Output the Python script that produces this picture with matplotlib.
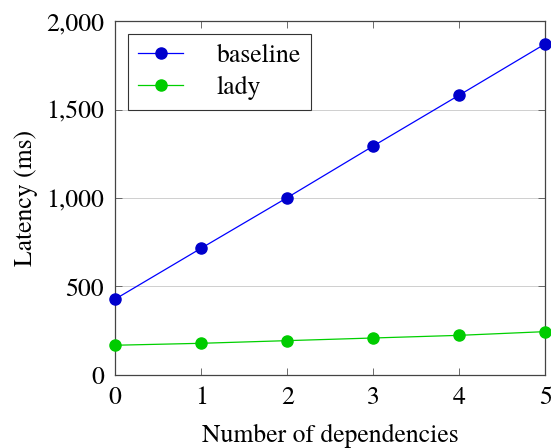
import matplotlib
matplotlib.use('Agg')
import matplotlib.pyplot as plt
from matplotlib.ticker import FuncFormatter

# data
deps = [0, 1, 2, 3, 4, 5]
baseline = [428, 716, 1002, 1294, 1582, 1872]
lady = [168, 179, 194, 209, 224, 245]

plt.rcParams['font.family'] = ['TeX Gyre Termes', 'Liberation Serif', 'DejaVu Serif']

fig = plt.figure(figsize=(5.51, 4.48), dpi=100)
ax = fig.add_axes([0.2087, 0.163, 0.7813, 0.790])

ax.plot(deps, baseline, color='#0000ff', lw=0.9, marker='o', ms=8,
        mfc='#0000cc', mec='#0000cc', label='baseline', clip_on=False, zorder=3)
ax.plot(deps, lady, color='#00d000', lw=0.9, marker='o', ms=8,
        mfc='#00cc00', mec='#00cc00', label='lady', clip_on=False, zorder=3)

ax.set_xlim(0, 5)
ax.set_ylim(0, 2000)
ax.set_xticks(deps)
ax.set_yticks([0, 500, 1000, 1500, 2000])
ax.yaxis.set_major_formatter(FuncFormatter(lambda v, p: '{:,}'.format(int(v))))
ax.grid(axis='y', color='#c8c8c8', lw=0.6)
ax.set_axisbelow(True)

ax.tick_params(direction='in', top=True, right=True, length=5, width=0.6,
               color='#555555', labelsize=18.5, pad=8)
for s in ax.spines.values():
    s.set_color('#444444')
    s.set_linewidth(0.9)

ax.set_xlabel('Number of dependencies', fontsize=18.5, labelpad=10)
ax.set_ylabel('Latency (ms)', fontsize=18.5, labelpad=6)

leg = ax.legend(loc='upper left', fontsize=18.5, fancybox=False, framealpha=1,
                edgecolor='#333333', borderpad=0.4, handlelength=1.75,
                handletextpad=1.3, borderaxespad=0.5, labelspacing=0.3)
leg.get_frame().set_linewidth(0.8)

fig.savefig('out.png', dpi=100)
